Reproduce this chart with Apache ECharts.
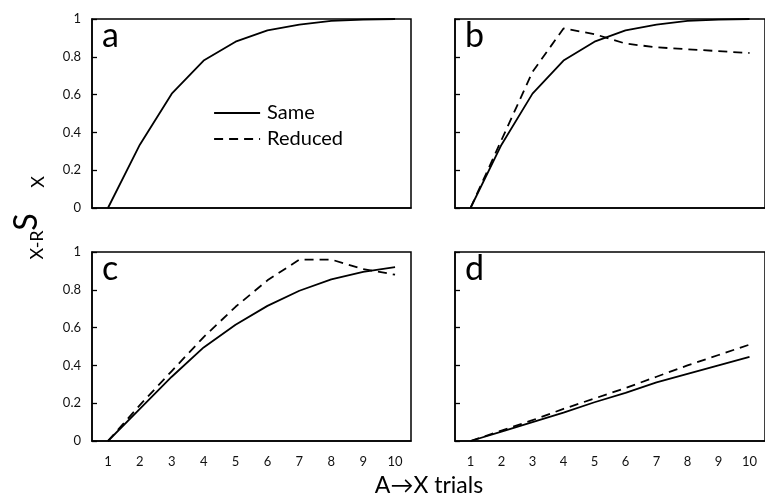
<!DOCTYPE html>
<html lang="en">
<head>
<meta charset="UTF-8">
<title>A-X trials</title>
<style>
    html, body { margin: 0; padding: 0; background: #fff; }
    #main { width: 765px; height: 498px; }
</style>
</head>
<body>
<div id="main"></div>
<script src="https://cdn.jsdelivr.net/npm/echarts@6/dist/echarts.min.js"></script>
<script>
    // data
    var trials = ['1', '2', '3', '4', '5', '6', '7', '8', '9', '10'];
    var panelNames = ['a', 'b', 'c', 'd'];
    var sameA = [0, 0.335, 0.605, 0.78, 0.88, 0.94, 0.97, 0.99, 0.997, 1];
    var sameB = [0, 0.335, 0.605, 0.78, 0.88, 0.94, 0.97, 0.99, 0.997, 1];
    var reducedB = [0, 0.36, 0.72, 0.95, 0.92, 0.87, 0.85, 0.84, 0.83, 0.82];
    var sameC = [0, 0.17, 0.34, 0.495, 0.615, 0.715, 0.795, 0.855, 0.895, 0.92];
    var reducedC = [0, 0.19, 0.37, 0.55, 0.71, 0.85, 0.96, 0.96, 0.91, 0.88];
    var sameD = [0, 0.05, 0.1, 0.15, 0.205, 0.255, 0.31, 0.355, 0.4, 0.445];
    var reducedD = [0, 0.055, 0.11, 0.17, 0.225, 0.28, 0.34, 0.4, 0.455, 0.51];

    var FONT = 'Lato, "Open Sans", sans-serif';

    var grids = [
        { left: 92, top: 19, width: 319, height: 189 },
        { left: 455, top: 19, width: 318, height: 189 },
        { left: 92, top: 252, width: 319, height: 189 },
        { left: 455, top: 252, width: 318, height: 189 }
    ];

    var myChart = echarts.init(document.getElementById('main'));

    function xAx(i, showLabel) {
        return {
            type: 'category', gridIndex: i, data: trials, boundaryGap: true,
            axisLine: { lineStyle: { color: '#000', width: 1.5 } },
            axisTick: { inside: true, length: 5, lineStyle: { color: '#000', width: 1.3 } },
            axisLabel: { show: showLabel, interval: 0, margin: 14, color: '#111', fontSize: 13, fontFamily: FONT },
            splitLine: { show: false }
        };
    }
    function yAx(i, showLabel) {
        return {
            type: 'value', gridIndex: i, min: 0, max: 1, interval: 0.2,
            axisLine: { show: true, lineStyle: { color: '#000', width: 1.5 } },
            axisTick: { show: true, inside: true, length: 5, lineStyle: { color: '#000', width: 1.3 } },
            axisLabel: { show: showLabel, margin: 11, color: '#111', fontSize: 13, fontFamily: FONT },
            splitLine: { show: false }
        };
    }
    function line(name, i, data, dashed) {
        return {
            type: 'line', name: name, xAxisIndex: i, yAxisIndex: i, data: data,
            symbol: 'none', silent: true, animation: false,
            itemStyle: { color: 'rgba(0,0,0,0)' },
            lineStyle: { color: '#000', width: 1.8, type: dashed ? [9, 6] : 'solid' }
        };
    }

    var graphic = [];
    panelNames.forEach(function (p, i) {
        graphic.push({
            type: 'text', x: grids[i].left + 10, y: grids[i].top + 17,
            style: { text: p, font: '34px ' + FONT, fill: '#000', align: 'left', verticalAlign: 'middle' }
        });
    });
    // y axis title
    graphic.push(
        { type: 'text', x: 37, y: 245, rotation: Math.PI / 2,
          style: { text: 'X-R', font: '18px ' + FONT, fill: '#000', align: 'center', verticalAlign: 'middle' } },
        { type: 'text', x: 27, y: 222, rotation: Math.PI / 2,
          style: { text: 'S', font: '32px ' + FONT, fill: '#000', align: 'center', verticalAlign: 'middle' } },
        { type: 'text', x: 38, y: 182, rotation: Math.PI / 2,
          style: { text: 'X', font: '18px ' + FONT, fill: '#000', align: 'center', verticalAlign: 'middle' } },
        { type: 'text', x: 429, y: 486,
          style: { text: 'A\u2192X trials', font: '23px ' + FONT, fill: '#000', align: 'center', verticalAlign: 'middle' } }
    );

    var option = {
        animation: false,
        grid: grids.map(function (g) {
            return Object.assign({ show: true, borderColor: '#000', borderWidth: 1.5, backgroundColor: 'transparent' }, g);
        }),
        xAxis: [xAx(0, false), xAx(1, false), xAx(2, true), xAx(3, true)],
        yAxis: [yAx(0, true), yAx(1, false), yAx(2, true), yAx(3, false)],
        legend: {
            data: ['Same', 'Reduced'], orient: 'vertical', left: 208, top: 98,
            itemWidth: 46, itemHeight: 20, itemGap: 6,
            lineStyle: { width: 2.2 },
            textStyle: { fontSize: 20, color: '#000', fontFamily: FONT, padding: [0, 0, 0, 2] }
        },
        graphic: graphic,
        series: [
            line('Same', 0, sameA, false),
            line('Same', 1, sameB, false),
            line('Reduced', 1, reducedB, true),
            line('Same', 2, sameC, false),
            line('Reduced', 2, reducedC, true),
            line('Same', 3, sameD, false),
            line('Reduced', 3, reducedD, true)
        ]
    };
    myChart.setOption(option);
</script>
</body>
</html>
